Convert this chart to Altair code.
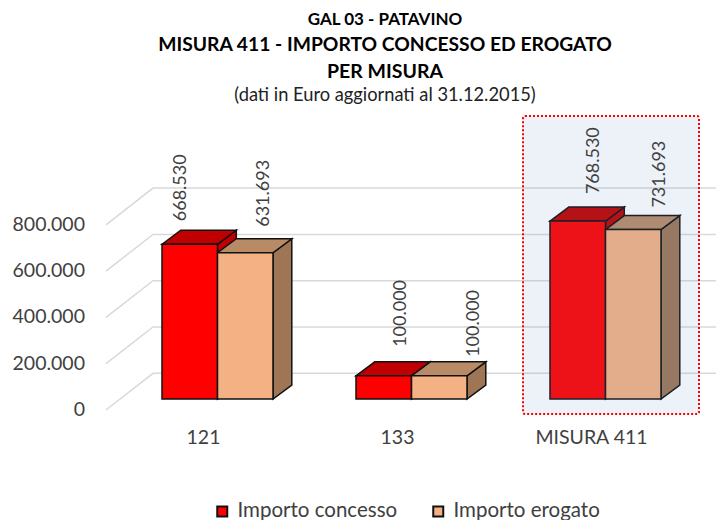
import altair as alt
import pandas as pd

CATEGORIES = ["121", "133", "MISURA 411"]
SERIES = ["Importo concesso", "Importo erogato"]
CONCESSO = [668530, 100000, 768530]
EROGATO = [631693, 100000, 731693]
TICKS = [0, 200000, 400000, 600000, 800000]
TICK_LABELS = ["0", "200.000", "400.000", "600.000", "800.000"]
VALUE_LABELS = [["668.530", "100.000", "768.530"], ["631.693", "100.000", "731.693"]]
TITLES = ["GAL 03 - PATAVINO", "MISURA 411 - IMPORTO CONCESSO ED EROGATO", "PER MISURA"]
SUBTITLE = "(dati in Euro aggiornati al 31.12.2015)"

FONT = "Lato"
W, H = 708, 512
PX_PER_CAT = 194.0
PX_PER_VAL = 0.0002315
X_DOM = [(8 - 217.5) / PX_PER_CAT, (716 - 217.5) / PX_PER_CAT]
Y_DOM = [(399 - 520) / PX_PER_VAL, (399 - 8) / PX_PER_VAL]
xs = alt.Scale(domain=X_DOM, nice=False, zero=False)
ys = alt.Scale(domain=Y_DOM, nice=False, zero=False)
BAR_W = 55.5 / PX_PER_CAT
DX = 18.8 / PX_PER_CAT
DY = 14 / PX_PER_VAL


def X(f="x"):
    return alt.X(f"{f}:Q", scale=xs, axis=None)


def Y(f="y"):
    return alt.Y(f"{f}:Q", scale=ys, axis=None, stack=None)


def px_x(p):
    return p / PX_PER_CAT


def px_y(p):
    return p / PX_PER_VAL


# grid: slanted floor edge, then back wall line
g = []
for t in TICKS:
    g += [
        dict(t=t, o=0, x=px_x(106 - 217.5), y=t + px_y(-11)),
        dict(t=t, o=1, x=px_x(153 - 217.5), y=t + px_y(25.7)),
        dict(t=t, o=2, x=X_DOM[1], y=t + px_y(25.7)),
    ]
grid = alt.Chart(pd.DataFrame(g)).mark_line(color="#d9d9d9", strokeWidth=1.5, clip=False).encode(
    x=X(), y=Y(), detail="t:N", order="o:Q"
)

FILLS = {
    SERIES[0]: ("#ff0000", "#c00000", "#c00000"),
    SERIES[1]: ("#f4b183", "#b98a66", "#9e7656"),
}


def faces(series, vals, start):
    fr, top, side = FILLS[series]
    rows = []
    for i, v in enumerate(vals):
        x0 = i + start
        x1 = x0 + BAR_W
        rows += [
            dict(f=f"s{i}", fill=side, x=x1, y=v, y2=0),
            dict(f=f"s{i}", fill=side, x=x1 + DX, y=v + DY, y2=DY),
            dict(f=f"t{i}", fill=top, x=x0, y=v, y2=v),
            dict(f=f"t{i}", fill=top, x=x0 + DX, y=v + DY, y2=v),
            dict(f=f"t{i}", fill=top, x=x1, y=v + DY, y2=v),
            dict(f=f"t{i}", fill=top, x=x1 + DX, y=v + DY, y2=v + DY),
        ]
    return alt.Chart(pd.DataFrame(rows)).mark_area(
        stroke="#111111", strokeWidth=1.5, interpolate="linear", clip=False
    ).encode(
        x=X(), y=Y(), y2="y2:Q", detail="f:N",
        fill=alt.Fill("fill:N", scale=None),
    )


red_faces = faces(SERIES[0], CONCESSO, -BAR_W)
peach_faces = faces(SERIES[1], EROGATO, 0)

front_rows = []
for i in range(3):
    front_rows.append(dict(series=SERIES[0], x=i - BAR_W, x2=i, y=CONCESSO[i], y2=0))
    front_rows.append(dict(series=SERIES[1], x=i, x2=i + BAR_W, y=EROGATO[i], y2=0))
fronts = alt.Chart(pd.DataFrame(front_rows)).mark_bar(
    stroke="#111111", strokeWidth=1.5, clip=False
).encode(
    x=X(), x2="x2:Q", y=Y(), y2="y2:Q",
    color=alt.Color(
        "series:N",
        scale=alt.Scale(domain=SERIES, range=["#ff0000", "#f4b183"]),
        legend=alt.Legend(
            title=None, orient="none", legendX=204, legendY=493, direction="horizontal",
            symbolType="square", symbolSize=100, symbolStrokeColor="#111111", symbolStrokeWidth=2,
            symbolOpacity=1, labelFont=FONT, labelFontSize=20.5, labelColor="#404040",
            labelOffset=5, columnPadding=30,
        ),
    ),
)

blank = alt.Data(values=[{}])
highlight = alt.Chart(blank).mark_rect(
    fill="#6996c8", fillOpacity=0.12, stroke="#ff0000", strokeWidth=2,
    strokeDash=[2, 2], cornerRadius=2,
).encode(x=alt.value(515), x2=alt.value(691), y=alt.value(108), y2=alt.value(406))

LABEL_DX = [[-9, 17, 16], [19, 35, 27]]
LABEL_DY = [[23, 29, 27], [26, 19, 22]]
lab = []
for s, vals in enumerate([CONCESSO, EROGATO]):
    for i, v in enumerate(vals):
        c = i + (-BAR_W / 2 if s == 0 else BAR_W / 2)
        lab.append(dict(x=c + px_x(LABEL_DX[s][i]), y=v + px_y(LABEL_DY[s][i]), t=VALUE_LABELS[s][i]))
labels = alt.Chart(pd.DataFrame(lab)).mark_text(
    angle=270, align="left", baseline="middle", font=FONT, fontSize=18, color="#404040"
).encode(x=X(), y=Y(), text="t:N")

ticks_df = pd.DataFrame([dict(x=px_x(85 - 217.5), y=t + px_y(-11), t=l) for t, l in zip(TICKS, TICK_LABELS)])
tick_text = alt.Chart(ticks_df).mark_text(
    align="right", baseline="middle", font=FONT, fontSize=19.5, color="#404040"
).encode(x=X(), y=Y(), text="t:N")

cat_df = pd.DataFrame([dict(x=i + px_x(-14), y=px_y(-39), t=c) for i, c in enumerate(CATEGORIES)])
cat_text = alt.Chart(cat_df).mark_text(
    align="center", baseline="middle", font=FONT, fontSize=19.5, color="#404040"
).encode(x=X(), y=Y(), text="t:N")


def title_line(text, ypos, size, weight, color):
    return alt.Chart(blank).mark_text(
        text=text, align="center", baseline="middle", font=FONT,
        fontSize=size, fontWeight=weight, color=color,
    ).encode(x=alt.value(377), y=alt.value(ypos))


chart = alt.layer(
    grid, red_faces, peach_faces, fronts, highlight, labels, tick_text, cat_text,
    title_line(TITLES[0], 11.5, 17, "bold", "#000000"),
    title_line(TITLES[1], 36.5, 19.3, "bold", "#000000"),
    title_line(TITLES[2], 63.7, 19.5, "bold", "#000000"),
    title_line(SUBTITLE, 88, 18.3, "normal", "#222222"),
).resolve_scale(fill="independent").properties(
    width=W, height=H, padding=0, autosize=alt.AutoSizeParams(type="none")
).configure_view(stroke=None)

chart.save("out.html", embed_options={"renderer": "svg", "actions": False})
